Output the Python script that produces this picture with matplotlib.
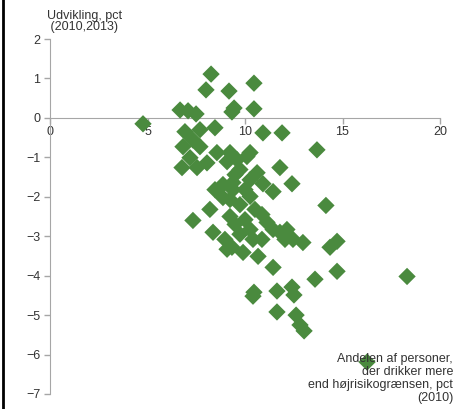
import matplotlib
matplotlib.use('Agg')
import matplotlib.pyplot as plt
from matplotlib.lines import Line2D

plt.rcParams['font.family'] = ['Liberation Sans', 'DejaVu Sans']

# share of heavy drinkers 2010 (pct) vs change 2010-2013 (pct-points)
andel = [8.26, 8.0, 9.18, 10.46, 10.46, 9.33, 9.44, 6.67, 7.08, 7.49,
         4.77, 6.92, 7.69, 8.46, 10.92, 11.9, 13.69, 7.33, 6.82, 7.69,
         8.56, 9.23, 10.26, 6.77, 7.54, 8.05, 7.18, 9.08, 9.74, 10.62,
         10.1, 11.79, 12.41, 10.92, 11.44, 9.38, 8.87, 9.38, 10.26, 14.15,
         8.2, 7.33, 8.36, 9.23, 9.08, 9.33, 9.9, 10.67, 11.44, 11.13,
         11.79, 12.97, 12.15, 14.72, 14.36, 13.59, 14.72, 18.31, 10.41, 10.46,
         11.64, 12.41, 12.51, 11.64, 12.62, 12.82, 13.03, 16.26, 10.41, 9.74,
         10.0, 9.74, 10.51, 10.87, 9.49, 8.97, 10.26, 10.0, 9.59, 9.49,
         10.26, 12.46, 11.44, 8.87, 9.23, 8.46, 12.05, 10.87]
udvikling = [1.11, 0.71, 0.68, 0.88, 0.23, 0.15, 0.25, 0.2, 0.18, 0.1,
             -0.15, -0.35, -0.3, -0.25, -0.38, -0.38, -0.81, -0.56, -0.73, -0.73,
             -0.88, -0.88, -0.88, -1.26, -1.26, -1.14, -1.01, -1.11, -1.31, -1.39,
             -0.98, -1.26, -1.67, -1.67, -1.87, -1.64, -2.02, -1.82, -1.99, -2.22,
             -2.32, -2.6, -2.9, -2.5, -3.33, -3.28, -3.41, -3.51, -3.79, -2.65,
             -2.9, -3.16, -2.83, -3.13, -3.28, -4.09, -3.89, -4.02, -4.52, -4.42,
             -4.39, -4.29, -4.49, -4.92, -5.0, -5.25, -5.4, -6.19, -3.08, -2.95,
             -2.58, -2.2, -2.32, -2.45, -2.7, -3.08, -2.83, -1.82, -1.06, -1.44,
             -1.57, -3.08, -2.83, -1.69, -2.07, -1.82, -3.08, -3.08]

xticks = [0, 5, 10, 15, 20]
yticks = [2, 1, 0, -1, -2, -3, -4, -5, -6, -7]

green = '#4a8a3e'
grey = '#a6a6a6'
txt = '#333333'

fig = plt.figure(figsize=(4.59, 4.09), dpi=100)
ax = fig.add_axes([50 / 459, 15 / 409, 390 / 459, 355 / 409])

ax.scatter(andel, udvikling, marker='D', s=78, color=green, edgecolors='none',
           zorder=3, clip_on=False)

ax.set_xlim(0, 20)
ax.set_ylim(-7, 2)

ax.spines['right'].set_visible(False)
ax.spines['top'].set_visible(False)
ax.spines['bottom'].set_position(('data', 0))
ax.spines['left'].set_color(grey)
ax.spines['bottom'].set_color(grey)

ax.set_xticks(xticks)
ax.set_yticks(yticks)
ax.tick_params(axis='both', colors=grey, labelcolor=txt, labelsize=9,
               length=4, width=1, direction='out')
ax.tick_params(axis='x', pad=2)
ax.tick_params(axis='y', pad=3)

fig.text(47 / 459, 1 - 10 / 409, 'Udvikling, pct\n (2010,2013)', ha='left', va='top',
         fontsize=9, color=txt, linespacing=0.9)
fig.text(453 / 459, 1 - 353 / 409,
         'Andelen af personer,\nder drikker mere\nend højrisikogrænsen, pct\n(2010)',
         ha='right', va='top', fontsize=9, color=txt, linespacing=1.12,
         multialignment='right', zorder=5)

fig.add_artist(Line2D([3 / 459, 3 / 459], [0, 1], color='black', linewidth=2,
                      transform=fig.transFigure))

fig.savefig('out.png', dpi=100)
